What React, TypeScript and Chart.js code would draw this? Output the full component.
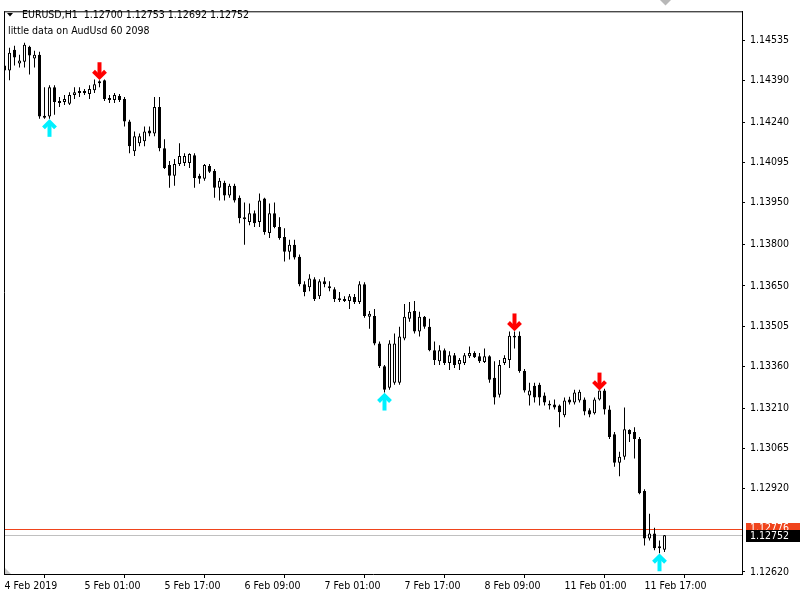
import React, { useEffect, useRef } from "react";
import { Chart, registerables } from "chart.js";
Chart.register(...registerables);

// ---- data ----
const timeLabels = ["4 Feb 2019", "5 Feb 01:00", "5 Feb 17:00", "6 Feb 09:00", "7 Feb 01:00", "7 Feb 17:00", "8 Feb 09:00", "11 Feb 01:00", "11 Feb 17:00"];
const timeLabelIndex = [0, 16, 32, 48, 64, 80, 96, 112, 128];
const priceTicks = [1.14535, 1.1439, 1.1424, 1.14095, 1.1395, 1.138, 1.1365, 1.13505, 1.1336, 1.1321, 1.13065, 1.1292, 1.1262];

const openP = [
  1.14444, 1.14426, 1.14501, 1.14451, 1.14458, 1.14512, 1.14469, 1.14483, 1.14263, 1.1426,
  1.14366, 1.14316, 1.14313, 1.14306, 1.14338, 1.14345, 1.14352, 1.14341, 1.14355, 1.1438,
  1.14391, 1.14327, 1.1432, 1.14334, 1.14323, 1.14242, 1.14135, 1.14164, 1.14171, 1.1421,
  1.14199, 1.14295, 1.14146, 1.14086, 1.14047, 1.14089, 1.14093, 1.14093, 1.14121, 1.14047,
  1.14036, 1.14082, 1.14064, 1.14004, 1.14022, 1.13976, 1.14011, 1.13968, 1.13897, 1.1388,
  1.13912, 1.1388, 1.13965, 1.13841, 1.13912, 1.13862, 1.13826, 1.13773, 1.13798, 1.13755,
  1.13656, 1.13645, 1.13674, 1.13613, 1.13667, 1.13649, 1.13638, 1.13606, 1.13603, 1.13596,
  1.1361, 1.13592, 1.13656, 1.13539, 1.13542, 1.13443, 1.13361, 1.13283, 1.13301, 1.13301,
  1.13461, 1.13532, 1.1356, 1.13486, 1.13539, 1.13503, 1.13418, 1.13379, 1.13418, 1.13372,
  1.134, 1.13368, 1.13372, 1.13397, 1.13408, 1.13397, 1.13376, 1.13397, 1.13319, 1.13258,
  1.13372, 1.13383, 1.13471, 1.13471, 1.13344, 1.13255, 1.1329, 1.13294, 1.13255, 1.13226,
  1.13223, 1.13219, 1.13184, 1.13241, 1.1323, 1.13237, 1.13241, 1.13202, 1.13191, 1.13241,
  1.13273, 1.13205, 1.13116, 1.13013, 1.13035, 1.13131, 1.13124, 1.13099, 1.12911, 1.1274,
  1.12758, 1.12712, 1.127
];
const highP = [
  1.14465, 1.14508, 1.14515, 1.14483, 1.14526, 1.14515, 1.14497, 1.14494, 1.14366, 1.14373,
  1.14373, 1.14331, 1.14338, 1.14348, 1.14366, 1.14366, 1.14359, 1.14373, 1.14394, 1.14391,
  1.14394, 1.14338, 1.14345, 1.14341, 1.14331, 1.14249, 1.14206, 1.14199, 1.14224, 1.14224,
  1.14331, 1.14331, 1.14178, 1.141, 1.14107, 1.14164, 1.14128, 1.14128, 1.14128, 1.14054,
  1.14089, 1.14089, 1.14071, 1.14039, 1.14029, 1.14018, 1.14018, 1.13976, 1.13951, 1.13947,
  1.13922, 1.13983, 1.13968, 1.13947, 1.13951, 1.13897, 1.13858, 1.13816, 1.13816, 1.13763,
  1.13667, 1.13692, 1.13681, 1.13674, 1.13681, 1.13667, 1.13645, 1.13628, 1.13613, 1.13621,
  1.13621, 1.13667, 1.13663, 1.1356, 1.13567, 1.1345, 1.13365, 1.13454, 1.13479, 1.13503,
  1.13585, 1.13592, 1.13596, 1.13557, 1.13542, 1.13532, 1.1345, 1.13436, 1.13425, 1.13415,
  1.13408, 1.1339, 1.13408, 1.13432, 1.13415, 1.13408, 1.13425, 1.134, 1.13379, 1.13383,
  1.134, 1.13486, 1.13486, 1.13486, 1.13351, 1.13301, 1.13301, 1.13301, 1.13266, 1.13237,
  1.13241, 1.13223, 1.13248, 1.13251, 1.13276, 1.13276, 1.13248, 1.13209, 1.13248, 1.13273,
  1.1328, 1.13219, 1.13124, 1.13053, 1.13212, 1.13134, 1.13141, 1.13106, 1.12918, 1.12829,
  1.12779, 1.12733, 1.12753
];
const lowP = [
  1.14391, 1.14391, 1.14444, 1.14437, 1.14437, 1.14412, 1.14437, 1.14252, 1.14252, 1.14252,
  1.14267, 1.14295, 1.14302, 1.14302, 1.14323, 1.14331, 1.14338, 1.14323, 1.14345, 1.14366,
  1.14316, 1.14309, 1.14309, 1.14313, 1.14224, 1.14128, 1.14118, 1.14153, 1.14153, 1.14189,
  1.14189, 1.14135, 1.14071, 1.14004, 1.14011, 1.14082, 1.14082, 1.14075, 1.14004, 1.14018,
  1.14029, 1.14057, 1.13968, 1.13958, 1.13958, 1.13968, 1.13951, 1.13876, 1.13798, 1.13869,
  1.13862, 1.13862, 1.13834, 1.13823, 1.13858, 1.13816, 1.13738, 1.13745, 1.13745, 1.13649,
  1.13613, 1.13631, 1.13596, 1.13603, 1.13645, 1.13631, 1.13592, 1.13592, 1.13592, 1.13567,
  1.13585, 1.13585, 1.13535, 1.13496, 1.13436, 1.13354, 1.13266, 1.13276, 1.13294, 1.13294,
  1.13454, 1.13521, 1.13479, 1.13468, 1.13496, 1.13415, 1.13365, 1.13365, 1.13365, 1.13347,
  1.13354, 1.13347, 1.13365, 1.1339, 1.1339, 1.13372, 1.13372, 1.13301, 1.13223, 1.13248,
  1.13365, 1.13354, 1.13425, 1.13337, 1.13266, 1.13219, 1.1323, 1.13219, 1.13219, 1.13205,
  1.13205, 1.13141, 1.13177, 1.13223, 1.13223, 1.1323, 1.13184, 1.13177, 1.13187, 1.13237,
  1.13187, 1.13099, 1.12999, 1.12964, 1.13024, 1.13088, 1.13028, 1.129, 1.12715, 1.12733,
  1.12698, 1.12687, 1.12692
];
const closeP = [
  1.14426, 1.1449, 1.14473, 1.14462, 1.14519, 1.1448, 1.14483, 1.1426, 1.14256, 1.14366,
  1.14313, 1.14309, 1.14323, 1.14338, 1.14348, 1.14352, 1.14345, 1.14359, 1.14377, 1.14387,
  1.14323, 1.1432, 1.14338, 1.1432, 1.14242, 1.14153, 1.14189, 1.14189, 1.14206, 1.14199,
  1.14295, 1.14146, 1.14075, 1.14047, 1.14089, 1.14118, 1.14118, 1.14125, 1.14039, 1.14036,
  1.14086, 1.14061, 1.14004, 1.14029, 1.13976, 1.14011, 1.13958, 1.13894, 1.1389, 1.13912,
  1.13876, 1.13958, 1.13844, 1.13912, 1.13862, 1.13823, 1.13773, 1.13798, 1.13752, 1.13656,
  1.13628, 1.13677, 1.13603, 1.13667, 1.13656, 1.13642, 1.13603, 1.13599, 1.13596, 1.13613,
  1.13592, 1.13656, 1.13542, 1.1355, 1.13443, 1.13361, 1.13276, 1.13443, 1.13443, 1.13468,
  1.13539, 1.13557, 1.13486, 1.13539, 1.13503, 1.13418, 1.13383, 1.13418, 1.13372, 1.134,
  1.13365, 1.13383, 1.134, 1.13408, 1.13393, 1.13379, 1.13397, 1.13312, 1.13248, 1.13365,
  1.1339, 1.13471, 1.13464, 1.13344, 1.13273, 1.13273, 1.13248, 1.13248, 1.1323, 1.13219,
  1.13212, 1.13195, 1.13237, 1.1323, 1.13266, 1.13269, 1.13198, 1.13187, 1.13241, 1.13273,
  1.13205, 1.13106, 1.13013, 1.13035, 1.13134, 1.13116, 1.13099, 1.12903, 1.1274, 1.12758,
  1.12705, 1.12705, 1.12752
];

const sellSignals = [19, 102, 119];
const buySignals = [9, 76, 131];
const bidPrice = 1.12752;
const redLinePrice = 1.12776;
const headerText = "EURUSD,H1  1.12700 1.12753 1.12692 1.12752";
const indicatorText = "little data on AudUsd 60 2098";

const FAMILY = '"DejaVu Sans Condensed", "Liberation Sans", sans-serif';
const FSIZE = 10.5;
const FONT = `${FSIZE}px ${FAMILY}`;

function drawArrow(ctx: CanvasRenderingContext2D, cx: number, tipY: number, dir: number, color: string) {
  // dir = 1: pointing down (tip at bottom); dir = -1: pointing up
  ctx.save();
  ctx.strokeStyle = color;
  ctx.lineWidth = 4;
  ctx.lineCap = "butt";
  ctx.lineJoin = "miter";
  ctx.beginPath();
  ctx.moveTo(cx, tipY - dir * 18);
  ctx.lineTo(cx, tipY - dir * 4);
  ctx.stroke();
  ctx.beginPath();
  ctx.moveTo(cx - 6, tipY - dir * 9);
  ctx.lineTo(cx, tipY - dir * 3);
  ctx.lineTo(cx + 6, tipY - dir * 9);
  ctx.stroke();
  ctx.restore();
}

const mtPlugin = {
  id: "mtDecor",
  beforeDraw(chart: any) {
    const ctx = chart.ctx;
    ctx.save();
    ctx.fillStyle = "#ffffff";
    ctx.fillRect(0, 0, chart.width, chart.height);
    ctx.restore();
  },
  beforeDatasetsDraw(chart: any) {
    const ctx = chart.ctx;
    const { left, right } = chart.chartArea;
    const y = chart.scales.y;
    const bidY = Math.round(y.getPixelForValue(bidPrice)) + 0.5;
    const redY = Math.round(y.getPixelForValue(redLinePrice)) + 0.5;
    ctx.save();
    ctx.lineWidth = 1;
    ctx.strokeStyle = "#c0c0c0";
    ctx.beginPath();
    ctx.moveTo(left, bidY);
    ctx.lineTo(right, bidY);
    ctx.stroke();
    ctx.strokeStyle = "#f0441c";
    ctx.beginPath();
    ctx.moveTo(left, redY);
    ctx.lineTo(right, redY);
    ctx.stroke();
    ctx.restore();
  },
  afterDatasetsDraw(chart: any) {
    const ctx = chart.ctx;
    const xs = chart.scales.x;
    const ys = chart.scales.y;
    sellSignals.forEach((i) => {
      drawArrow(ctx, xs.getPixelForValue(i), ys.getPixelForValue(highP[i]), 1, "#ff0000");
    });
    buySignals.forEach((i) => {
      drawArrow(ctx, xs.getPixelForValue(i), ys.getPixelForValue(lowP[i]), -1, "#00f0ff");
    });
  },
  afterDraw(chart: any) {
    const ctx = chart.ctx;
    const { left, right, top, bottom } = chart.chartArea;
    const ys = chart.scales.y;
    ctx.save();
    // frame top and left
    ctx.strokeStyle = "#000000";
    ctx.lineWidth = 1;
    ctx.beginPath();
    ctx.moveTo(left, top + 0.5);
    ctx.lineTo(right, top + 0.5);
    ctx.moveTo(left + 0.5, top);
    ctx.lineTo(left + 0.5, bottom);
    ctx.stroke();

    // chart shift marker (top) and scale marker (bottom-left)
    ctx.fillStyle = "#b8b8b8";
    ctx.beginPath();
    ctx.moveTo(660, 0);
    ctx.lineTo(671, 0);
    ctx.lineTo(665.5, 5.5);
    ctx.closePath();
    ctx.fill();
    ctx.fillStyle = "#c8c8c8";
    ctx.beginPath();
    ctx.moveTo(left + 1, bottom - 6);
    ctx.lineTo(left + 1, bottom);
    ctx.lineTo(left + 7, bottom);
    ctx.closePath();
    ctx.fill();

    // price labels
    ctx.font = FONT;
    ctx.textBaseline = "middle";
    ctx.textAlign = "left";
    const redY = ys.getPixelForValue(redLinePrice);
    const bidY = ys.getPixelForValue(bidPrice);
    ctx.fillStyle = "#f0441c";
    ctx.fillRect(right + 4, Math.round(redY) - 6, 54, 12);
    ctx.fillStyle = "#ffffff";
    ctx.fillText(redLinePrice.toFixed(5), right + 8, redY);
    ctx.fillStyle = "#000000";
    ctx.fillRect(right + 4, Math.round(bidY) - 5, 54, 12);
    ctx.fillStyle = "#ffffff";
    ctx.fillText(bidPrice.toFixed(5), right + 8, bidY + 1);

    // header
    ctx.fillStyle = "#000000";
    ctx.beginPath();
    ctx.moveTo(7, 13);
    ctx.lineTo(13, 13);
    ctx.lineTo(10, 16.5);
    ctx.closePath();
    ctx.fill();
    ctx.textBaseline = "alphabetic";
    ctx.fillText(headerText, 22, 18);
    ctx.fillText(indicatorText, 8, 34);
    ctx.restore();
  },
};

export default function App() {
  const ref = useRef<HTMLCanvasElement | null>(null);
  useEffect(() => {
    document.body.style.margin = "0";
    const canvas = ref.current;
    if (!canvas) return;
    const idx = openP.map((_, i) => i);
    const wickData = idx.map((i) => ({ x: i, y: [lowP[i], highP[i]] }));
    const bodyData = idx.map((i) => ({ x: i, y: [openP[i], closeP[i]] }));
    const font = { family: FAMILY, size: FSIZE };
    const chart = new Chart(canvas, {
      type: "bar",
      data: {
        datasets: [
          {
            label: "wick",
            data: wickData as any,
            backgroundColor: "#000000",
            borderWidth: 0,
            barThickness: 1,
            grouped: false,
            inflateAmount: 0,
            order: 2,
          } as any,
          {
            label: "body",
            data: bodyData as any,
            backgroundColor: (c: any) => (closeP[c.dataIndex] >= openP[c.dataIndex] ? "#ffffff" : "#000000"),
            borderColor: "#000000",
            borderWidth: 1,
            borderSkipped: false,
            barThickness: 3,
            grouped: false,
            inflateAmount: 0,
            order: 1,
          } as any,
        ],
      },
      options: {
        responsive: false,
        animation: false,
        devicePixelRatio: 1,
        events: [],
        layout: { padding: { left: 4, top: 3, right: 0, bottom: 0 } },
        plugins: { legend: { display: false }, tooltip: { enabled: false }, title: { display: false } },
        scales: {
          x: {
            type: "linear",
            min: -0.1,
            max: 147.5,
            offset: false,
            position: "bottom",
            afterFit: (s: any) => {
              s.height = 26;
            },
            afterBuildTicks: (s: any) => {
              s.ticks = timeLabelIndex.map((v) => ({ value: v }));
            },
            ticks: {
              autoSkip: false,
              maxRotation: 0,
              minRotation: 0,
              align: "start",
              padding: 2,
              color: "#000000",
              font,
              callback: (v: any) => {
                const k = timeLabelIndex.indexOf(Number(v));
                return k >= 0 ? timeLabels[k] : "";
              },
            },
            grid: { drawOnChartArea: false, drawTicks: true, tickLength: 4, color: "#000000", lineWidth: 1 },
            border: { display: true, color: "#000000", width: 1 },
          },
          y: {
            type: "linear",
            position: "right",
            min: 1.126123,
            max: 1.1463935,
            afterFit: (s: any) => {
              s.width = 58;
            },
            afterBuildTicks: (s: any) => {
              s.ticks = priceTicks.map((v) => ({ value: v }));
            },
            ticks: {
              autoSkip: false,
              padding: 5,
              color: "#000000",
              font,
              callback: (v: any) => Number(v).toFixed(5),
            },
            grid: { drawOnChartArea: false, drawTicks: true, tickLength: 3, color: "#000000", lineWidth: 1 },
            border: { display: true, color: "#000000", width: 1 },
          },
        },
      } as any,
      plugins: [mtPlugin],
    });
    return () => chart.destroy();
  }, []);
  return (
    <div style={{ width: 800, height: 600 }}>
      <canvas ref={ref} width={800} height={600} style={{ display: "block" }} />
    </div>
  );
}
